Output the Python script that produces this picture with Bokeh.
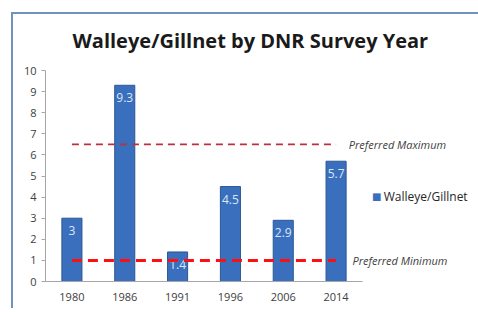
from bokeh.plotting import figure
from bokeh.models import ColumnDataSource, FixedTicker, Range1d
from bokeh.core.properties import value
from bokeh.embed import file_html
from bokeh.resources import INLINE

years = ["1980", "1986", "1991", "1996", "2006", "2014"]
walleye = [3.0, 9.3, 1.4, 4.5, 2.9, 5.7]
value_labels = ["3", "9.3", "1.4", "4.5", "2.9", "5.7"]
series_name = "Walleye/Gillnet"
pref_max = 6.5
pref_min = 1.0
ref_names = ["Preferred Maximum", "Preferred  Minimum"]
y_ticks = list(range(0, 11))

BAR_FILL = "#3a6fbd"
BAR_LINE = "#2b5894"
EDGE = "#7391bf"

src = ColumnDataSource(dict(x=years, y=walleye, t=value_labels))

p = figure(x_range=years, y_range=Range1d(0, 10), width=478, height=308,
           output_backend="svg", toolbar_location=None,
           min_border_left=45, min_border_right=116, min_border_top=70, min_border_bottom=27,
           background_fill_color="white", border_fill_alpha=0,
           outline_line_color=None)
# chart-box edge (left and top rules), painted behind the transparent canvas border
p.styles = {
    "background-color": "white",
    "background-image": f"linear-gradient({EDGE}, {EDGE}), linear-gradient({EDGE}, {EDGE})",
    "background-size": "2px 100%, 100% 2px",
    "background-position": "11px 12px, 11px 12px",
    "background-repeat": "no-repeat",
}

p.title.text = "Walleye/Gillnet by DNR Survey Year"
p.title.text_font = "Open Sans"
p.title.text_font_style = "bold"
p.title.text_font_size = "20px"
p.title.text_color = "#1a1a1a"
p.title.align = "left"
p.title.offset = 27
p.title.standoff = 33

bars = p.vbar(x="x", top="y", width=0.38, source=src, fill_color=BAR_FILL,
              line_color=BAR_LINE, line_width=1)

p.text(x="x", y="y", text="t", source=src, text_align="center", text_baseline="top",
       y_offset=8, text_color="#dce7f5", text_font=value("Open Sans"), text_font_size="12px")

p.segment(x0=[years[0]], y0=[pref_max], x1=[years[-1]], y1=[pref_max],
          line_color="#b8323f", line_width=1.6, line_dash="7 5")
p.segment(x0=[years[0]], y0=[pref_min], x1=[years[-1]], y1=[pref_min],
          line_color="#ff1010", line_width=3, line_dash="10 6")

# labels for the reference lines, drawn past the frame (overlay level is not clipped)
ref_src = ColumnDataSource(dict(x=[5.74, 5.81], y=[pref_max, pref_min], t=ref_names))
p.text(x="x", y="y", text="t", source=ref_src, text_baseline="middle", text_align="left",
       text_font=value("Open Sans"), text_font_style="italic", text_font_size="11px",
       text_color="#404040", level="overlay")

# series key placed to the right of the frame
key_src = ColumnDataSource(dict(x=[6.27], y=[4.03], t=[series_name], m=["\u25a0"]))
p.text(x="x", y="y", text="m", source=key_src, text_baseline="middle", text_align="center",
       text_font=value("DejaVu Sans"), text_font_size="10px", text_color=BAR_FILL,
       level="overlay")
p.text(x="x", y="y", text="t", source=key_src, x_offset=7, text_baseline="middle",
       text_align="left", text_font=value("Open Sans"), text_font_size="12px",
       text_color="#262626", level="overlay")

p.xgrid.grid_line_color = None
p.ygrid.grid_line_color = None

p.yaxis.ticker = FixedTicker(ticks=y_ticks)
p.yaxis.minor_tick_line_color = None
p.yaxis.major_tick_out = 4
p.yaxis.major_tick_in = 0
p.yaxis.axis_line_color = "#a6a6a6"
p.yaxis.major_tick_line_color = "#a6a6a6"
p.yaxis.major_label_text_font = "Open Sans"
p.yaxis.major_label_text_font_size = "11px"
p.yaxis.major_label_text_color = "#404040"
p.yaxis.major_label_standoff = 5

p.xaxis.axis_line_color = "#a6a6a6"
p.xaxis.major_tick_line_color = None
p.xaxis.major_label_text_font = "Open Sans"
p.xaxis.major_label_text_font_size = "11px"
p.xaxis.major_label_text_color = "#404040"
p.xaxis.major_label_standoff = 5

open("out.html", "w").write(file_html(p, INLINE))
